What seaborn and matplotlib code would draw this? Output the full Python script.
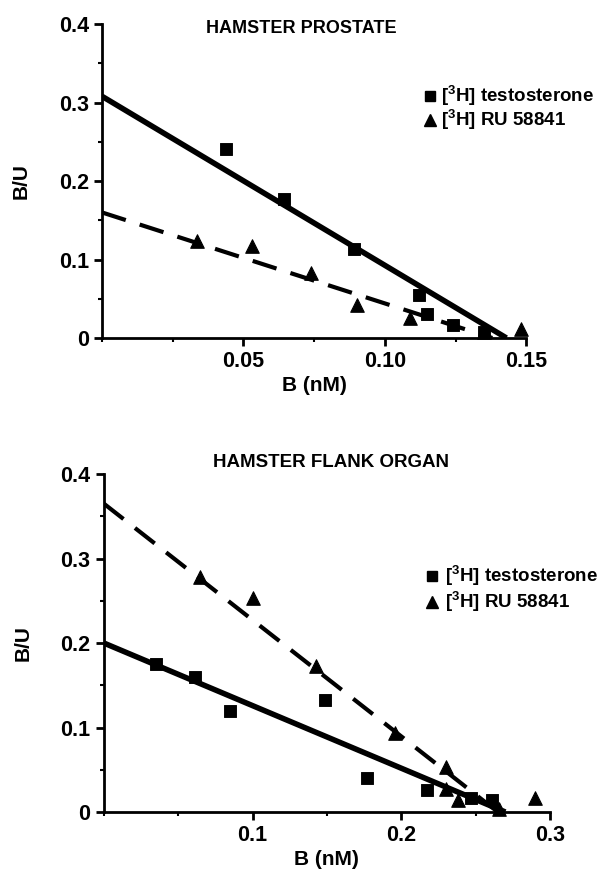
import seaborn as sns
import matplotlib.pyplot as plt
from matplotlib.ticker import MultipleLocator

# --- data ---
# hamster prostate
pro_testo_b = [0.044, 0.0645, 0.089, 0.112, 0.115, 0.124, 0.135]
pro_testo_bu = [0.241, 0.177, 0.113, 0.055, 0.030, 0.017, 0.008]
pro_ru_b = [0.0336, 0.053, 0.074, 0.090, 0.109, 0.135, 0.148]
pro_ru_bu = [0.124, 0.117, 0.083, 0.042, 0.025, 0.008, 0.011]
pro_testo_fit_b = [0.0, 0.143]
pro_testo_fit_bu = [0.308, 0.0]
pro_ru_fit_b = [0.0, 0.138]
pro_ru_fit_bu = [0.160, 0.0]

# hamster flank organ
fl_testo_b = [0.035, 0.061, 0.085, 0.149, 0.177, 0.217, 0.247, 0.261]
fl_testo_bu = [0.175, 0.160, 0.119, 0.133, 0.040, 0.026, 0.017, 0.014]
fl_ru_b = [0.065, 0.100, 0.143, 0.196, 0.230, 0.230, 0.238, 0.266, 0.290]
fl_ru_bu = [0.278, 0.253, 0.173, 0.094, 0.053, 0.027, 0.014, 0.004, 0.016]
fl_testo_fit_b = [0.0, 0.270]
fl_testo_fit_bu = [0.200, 0.0]
fl_ru_fit_b = [0.0, 0.265]
fl_ru_fit_bu = [0.365, 0.0]

lab_testo = r'[$^{3}$H] testosterone'
lab_ru = r'[$^{3}$H] RU 58841'

sns.set_theme(style="ticks")
plt.rcParams['font.family'] = ['Liberation Sans', 'DejaVu Sans']
plt.rcParams['font.weight'] = 'bold'
plt.rcParams['mathtext.default'] = 'bf'
plt.rcParams['mathtext.fontset'] = 'custom'
plt.rcParams['mathtext.bf'] = 'Liberation Sans:bold'
plt.rcParams['text.color'] = 'black'
plt.rcParams['axes.labelcolor'] = 'black'

fig = plt.figure(figsize=(6.07, 8.72), dpi=100)
ax1 = fig.add_axes([0.168, 0.6124, 0.699, 0.360])
ax2 = fig.add_axes([0.171, 0.0688, 0.735, 0.3876])


def panel(ax, tb, tbu, rb, rbu, tfb, tfbu, rfb, rfbu, xmax, xmaj, xmin, xfmt):
    sns.lineplot(x=tfb, y=tfbu, ax=ax, color='black', lw=4, solid_capstyle='butt')
    sns.lineplot(x=rfb, y=rfbu, ax=ax, color='black', lw=3, linestyle=(0, (6, 3.5)))
    sns.scatterplot(x=tb, y=tbu, ax=ax, marker='s', color='black', s=65,
                    edgecolor='black', zorder=3)
    sns.scatterplot(x=rb, y=rbu, ax=ax, marker='^', color='black', s=95,
                    edgecolor='black', zorder=3)
    ax.set_xlim(0, xmax)
    ax.set_ylim(0, 0.4)
    ax.xaxis.set_major_locator(MultipleLocator(xmaj))
    ax.xaxis.set_minor_locator(MultipleLocator(xmin))
    ax.yaxis.set_minor_locator(MultipleLocator(0.05))
    ax.set_xticks([t for t in ax.get_xticks() if 0 < t <= xmax + 1e-9])
    ax.set_xticklabels([xfmt % t for t in ax.get_xticks()])
    ax.set_yticks([0, 0.1, 0.2, 0.3, 0.4])
    ax.set_yticklabels(['0', '0.1', '0.2', '0.3', '0.4'])
    sns.despine(ax=ax)
    for s in ('left', 'bottom'):
        ax.spines[s].set_linewidth(2)
        ax.spines[s].set_color('black')
    ax.tick_params(which='major', length=6, width=2, labelsize=15.5, colors='black')
    ax.tick_params(which='minor', length=3, width=1.5, colors='black')
    ax.set_xlabel('B (nM)', fontsize=15, fontweight='bold', labelpad=3)
    ax.set_ylabel('B/U', fontsize=15, fontweight='bold', labelpad=20)
    for lab in ax.get_xticklabels() + ax.get_yticklabels():
        lab.set_fontweight('bold')
    for p in ax.collections:
        p.set_clip_on(False)


panel(ax1, pro_testo_b, pro_testo_bu, pro_ru_b, pro_ru_bu,
      pro_testo_fit_b, pro_testo_fit_bu, pro_ru_fit_b, pro_ru_fit_bu,
      0.15, 0.05, 0.025, '%.2f')
panel(ax2, fl_testo_b, fl_testo_bu, fl_ru_b, fl_ru_bu,
      fl_testo_fit_b, fl_testo_fit_bu, fl_ru_fit_b, fl_ru_fit_bu,
      0.3, 0.1, 0.05, '%.1f')

ax1.text(0.47, 0.985, 'HAMSTER PROSTATE', transform=ax1.transAxes,
         fontsize=13, fontweight='bold', ha='center', va='center')
ax2.text(0.51, 1.035, 'HAMSTER FLANK ORGAN', transform=ax2.transAxes,
         fontsize=13.5, fontweight='bold', ha='center', va='center')

legpos = ((ax1, 0.774, 0.80, (0.772, 0.693)), (ax2, 0.735, 0.765, (0.697, 0.622)))
for ax, mx, tx, ys in legpos:
    ax.plot([mx], [ys[0]], transform=ax.transAxes, marker='s', ms=7,
            color='black', clip_on=False)
    ax.text(tx, ys[0], lab_testo, transform=ax.transAxes, fontsize=13.5,
            fontweight='bold', va='center', ha='left')
    ax.plot([mx], [ys[1]], transform=ax.transAxes, marker='^', ms=8.5,
            color='black', clip_on=False)
    ax.text(tx, ys[1], lab_ru, transform=ax.transAxes, fontsize=13.5,
            fontweight='bold', va='center', ha='left')

plt.savefig('out.png', dpi=100)
